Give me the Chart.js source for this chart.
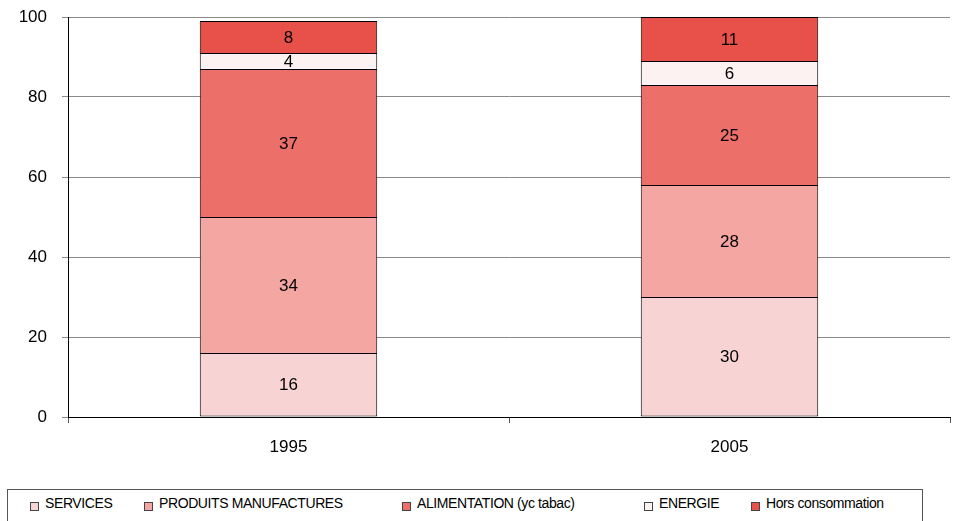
<!DOCTYPE html>
<html>
<head>
<meta charset="utf-8">
<script src="https://cdn.jsdelivr.net/npm/chart.js@4/dist/chart.umd.min.js"></script>
<style>
  html, body { margin: 0; padding: 0; background: #fff; }
  #wrap { position: relative; width: 957px; height: 521px; overflow: hidden; }
  #c { position: absolute; left: 0; top: 0; }
  #legend {
    position: absolute; left: 7px; top: 489px; width: 916px; height: 40px;
    border: 1px solid #555; box-sizing: border-box; background: #fff;
    font-family: "Liberation Sans", Arial, sans-serif; font-size: 14px; color: #000;
  }
  .item { position: absolute; top: 5px; white-space: nowrap; letter-spacing: -0.4px; }
  .box { position: absolute; top: 7px; width: 7px; height: 7px; border: 1px solid #444; }
  .lbl { position: absolute; top: 0; left: 15px; }
</style>
</head>
<body>
<div id="wrap">
  <canvas id="c" width="957" height="521"></canvas>
  <div id="legend"></div>
</div>
<script>
// Categories (years) and shares of each spending group, in percent
const years = ['1995', '2005'];
const seriesNames = ['SERVICES', 'PRODUITS MANUFACTURES', 'ALIMENTATION (yc tabac)', 'ENERGIE', 'Hors consommation'];
const services = [16, 30];
const produits = [34, 28];
const alimentation = [37, 25];
const energie = [4, 6];
const horsConso = [8, 11];
const yTicks = [0, 20, 40, 60, 80, 100];

const seriesValues = [services, produits, alimentation, energie, horsConso];
const seriesColors = ['#F8D3D3', '#F4A6A2', '#EC6F6A', '#FDF2F2', '#E8504A'];
// x offsets of the legend entries inside the legend frame
const legendX = [22, 136, 394, 636, 743];

const FONT = '"Liberation Sans", Arial, sans-serif';

// Only the lowest segment outlines its bottom edge, so stacked joins stay 1px
const datasets = seriesNames.map((name, i) => ({
  label: name,
  data: seriesValues[i],
  backgroundColor: seriesColors[i],
  borderColor: '#000',
  borderWidth: 1,
  borderSkipped: i === 0 ? false : 'start',
  categoryPercentage: 0.8,
  barPercentage: 0.503
}));

// Writes each segment's value in the middle of its bar piece
const segmentLabels = {
  id: 'segmentLabels',
  afterDatasetsDraw(chart) {
    const ctx = chart.ctx;
    ctx.save();
    ctx.font = '17px ' + FONT;
    ctx.fillStyle = '#000';
    ctx.textAlign = 'center';
    ctx.textBaseline = 'middle';
    chart.data.datasets.forEach((ds, di) => {
      const meta = chart.getDatasetMeta(di);
      meta.data.forEach((bar, j) => {
        const y = (bar.y + bar.base) / 2;
        ctx.fillText(String(ds.data[j]), bar.x, y + 1);
      });
    });
    ctx.restore();
  }
};

new Chart(document.getElementById('c'), {
  type: 'bar',
  data: { labels: years, datasets },
  options: {
    responsive: false,
    maintainAspectRatio: false,
    animation: false,
    layout: { padding: { top: 17, right: 7, left: 0, bottom: 0 } },
    plugins: {
      legend: { display: false },
      tooltip: { enabled: false }
    },
    scales: {
      x: {
        stacked: true,
        afterFit(scale) { scale.height = 104; scale.paddingLeft = 0; scale.paddingRight = 0; },
        grid: {
          display: true,
          offset: true,
          drawOnChartArea: false,
          tickLength: 6,
          color: '#555'
        },
        border: { display: true, color: '#000', width: 1 },
        ticks: {
          color: '#000',
          font: { family: FONT, size: 17 },
          padding: 14
        }
      },
      y: {
        stacked: true,
        min: 0,
        max: 100,
        afterFit(scale) { scale.width = 68; scale.paddingTop = 0; scale.paddingBottom = 0; },
        afterBuildTicks(scale) { scale.ticks = yTicks.map(v => ({ value: v })); },
        grid: {
          color: '#8a8a8a',
          tickLength: 6,
          lineWidth: 1
        },
        border: { display: true, color: '#000', width: 1 },
        ticks: {
          color: '#000',
          font: { family: FONT, size: 17 },
          padding: 15
        }
      }
    }
  },
  plugins: [segmentLabels]
});

// Legend row drawn from the same series names and colours
const legend = document.getElementById('legend');
seriesNames.forEach((name, i) => {
  const item = document.createElement('div');
  item.className = 'item';
  item.style.left = legendX[i] + 'px';
  const box = document.createElement('div');
  box.className = 'box';
  box.style.background = seriesColors[i];
  const lbl = document.createElement('span');
  lbl.className = 'lbl';
  lbl.textContent = name;
  item.appendChild(box);
  item.appendChild(lbl);
  legend.appendChild(item);
});
</script>
</body>
</html>
